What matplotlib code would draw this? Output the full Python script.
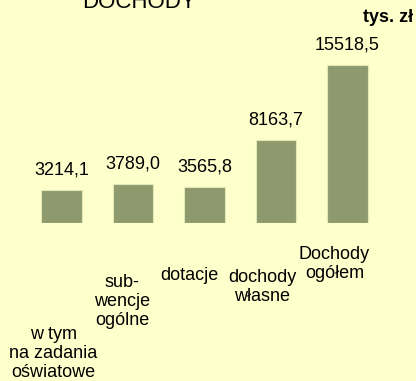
import matplotlib.pyplot as plt

plt.rcParams['font.family'] = ['Liberation Sans', 'DejaVu Sans']

# Dochody (tys. zł)
kategorie = ["w tym\nna zadania\noświatowe", "sub-\nwencje\nogólne", "dotacje",
             "dochody\nwłasne", "Dochody\nogółem"]
wartosci = [3214.1, 3789.0, 3565.8, 8163.7, 15518.5]
etykiety = ["3214,1", "3789,0", "3565,8", "8163,7", "15518,5"]

tlo = "#FFFFCC"
kolor_slupka = "#8E9A6E"

fig = plt.figure(figsize=(4.16, 3.81), dpi=100, facecolor=tlo)
ax = fig.add_axes([25.75 / 416, 158 / 381, 357.5 / 416, 193 / 381])
ax.set_facecolor(tlo)

x = range(len(wartosci))
ax.bar(x, wartosci, width=0.56, color=kolor_slupka, edgecolor="#E2E8B4", linewidth=0.8)
ax.set_xlim(-0.5, 4.5)
ax.set_ylim(0, 18960)
ax.axis("off")

# wartości nad słupkami
for i, (v, t) in enumerate(zip(wartosci, etykiety)):
    ax.annotate(t, xy=(i, v), xytext=(0, 20), textcoords="offset pixels",
                ha="center", va="center", fontsize=13)

# podpisy kategorii rozmieszczone schodkowo pod słupkami
przesuniecia = [(-8, -103), (-11, -51), (-15, -44), (-14, -46), (-13, -23)]
for i, (k, (dx, dy)) in enumerate(zip(kategorie, przesuniecia)):
    ax.annotate(k, xy=(i, 0), xytext=(dx, dy), textcoords="offset pixels",
                ha="center", va="top", fontsize=13, linespacing=1.17,
                annotation_clip=False)

fig.text(139 / 416, 1 - 8 / 381, "DOCHODY", ha="center", va="baseline", fontsize=16)
fig.text(413 / 416, 1 - 17 / 381, "tys. zł", ha="right", va="center",
         fontsize=13, fontweight="bold")

fig.savefig("out.png", dpi=100, facecolor=tlo)
